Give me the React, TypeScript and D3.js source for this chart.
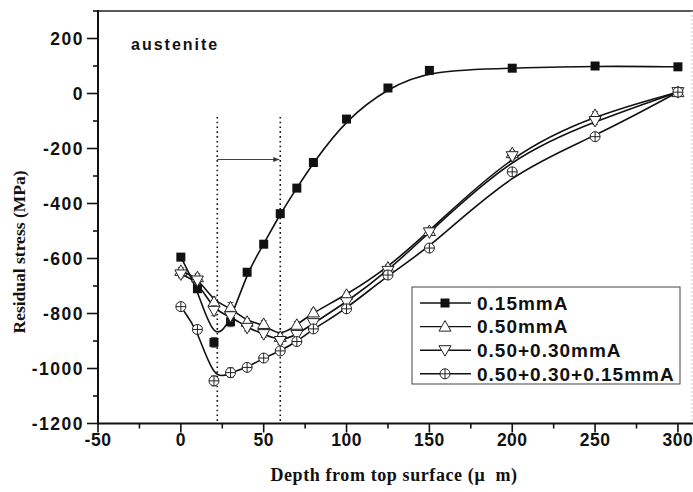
import React, { useEffect, useRef } from 'react';
import * as d3 from 'd3';

// depth (µm) shared by all series
const depths = [0, 10, 20, 30, 40, 50, 60, 70, 80, 100, 125, 150, 200, 250, 300];

const seriesNames = ['0.15mmA', '0.50mmA', '0.50+0.30mmA', '0.50+0.30+0.15mmA'];
const stress015 = [-595, -710, -905, -830, -650, -548, -437, -344, -251, -93, 20, 84, 92, 100, 97];
const stress050 = [-645, -668, -758, -778, -830, -838, -885, -841, -796, -732, -633, -500, -217, -78, 5];
const stress050_030 = [-658, -680, -790, -810, -852, -875, -900, -878, -835, -759, -645, -505, -228, -100, 5];
const stress050_030_015 = [-775, -858, -1045, -1015, -996, -962, -936, -902, -856, -783, -660, -562, -285, -157, 5];
const errors = [12, 12, 18, 18, 12, 12, 12, 12, 12, 10, 10, 10, 10, 12, 10];

const xTicks = [-50, 0, 50, 100, 150, 200, 250, 300];
const yTicks = [200, 0, -200, -400, -600, -800, -1000, -1200];
const markerLines = [22, 60];
const arrowLevel = -240;

const W = 693;
const H = 492;

const App: React.FC = () => {
  const svgRef = useRef<SVGSVGElement>(null);

  useEffect(() => {
    if (!svgRef.current) return;
    const svg = d3.select(svgRef.current).html('');

    const x = d3.scaleLinear().domain([-50, 310]).range([98, 694.5]);
    const y = d3.scaleLinear().domain([-1200, 300]).range([423.5, 11]);
    const sans = '"Liberation Sans", Arial, sans-serif';
    const serif = '"Liberation Serif", "Times New Roman", serif';

    // frame
    svg.append('line').attr('x1', 98).attr('x2', 694).attr('y1', 11).attr('y2', 11)
      .attr('stroke', '#222').attr('stroke-width', 1.5);
    svg.append('line').attr('x1', 692).attr('x2', 692).attr('y1', 11).attr('y2', 423.5)
      .attr('stroke', '#ccc').attr('stroke-width', 1).attr('stroke-dasharray', '2,2');

    // dotted vertical guides + arrow
    markerLines.forEach(v => {
      svg.append('line')
        .attr('x1', x(v)).attr('x2', x(v))
        .attr('y1', y(-85)).attr('y2', y(-1200))
        .attr('stroke', '#111').attr('stroke-width', 1.6)
        .attr('stroke-dasharray', '1.6,3.2');
    });
    const defs = svg.append('defs');
    defs.append('marker').attr('id', 'arr').attr('viewBox', '0 0 10 10')
      .attr('refX', 10).attr('refY', 5).attr('markerWidth', 10).attr('markerHeight', 6)
      .attr('orient', 'auto').attr('markerUnits', 'userSpaceOnUse')
      .append('path').attr('d', 'M0,1 L10,5 L0,9 Z').attr('fill', '#333');
    svg.append('line')
      .attr('x1', x(markerLines[0])).attr('x2', x(markerLines[1]) - 1)
      .attr('y1', y(arrowLevel)).attr('y2', y(arrowLevel))
      .attr('stroke', '#444').attr('stroke-width', 1)
      .attr('marker-end', 'url(#arr)');

    // axes
    const gx = svg.append('g');
    gx.append('line').attr('x1', 98).attr('x2', 694).attr('y1', 423.5).attr('y2', 423.5)
      .attr('stroke', '#111').attr('stroke-width', 2);
    d3.range(-50, 310, 25).forEach(v => {
      const major = v % 50 === 0;
      gx.append('line').attr('x1', x(v)).attr('x2', x(v))
        .attr('y1', 423.5).attr('y2', 423.5 + (major ? 9 : 5))
        .attr('stroke', '#111').attr('stroke-width', 1.6);
    });
    xTicks.forEach(v => {
      gx.append('text').attr('x', x(v)).attr('y', 446)
        .attr('text-anchor', 'middle').attr('font-family', sans).attr('font-weight', 'bold')
        .attr('font-size', 17.5).attr('letter-spacing', 0.5).attr('fill', '#111')
        .text(v);
    });

    const gy = svg.append('g');
    gy.append('line').attr('x1', 98).attr('x2', 98).attr('y1', 10).attr('y2', 424.5)
      .attr('stroke', '#111').attr('stroke-width', 2);
    d3.range(-1200, 301, 100).forEach(v => {
      const major = v % 200 === 0;
      gy.append('line').attr('x1', 98).attr('x2', 98 - (major ? 11 : 5))
        .attr('y1', y(v)).attr('y2', y(v))
        .attr('stroke', '#111').attr('stroke-width', 1.6);
    });
    yTicks.forEach(v => {
      gy.append('text').attr('x', 84).attr('y', y(v)).attr('dy', '0.36em')
        .attr('text-anchor', 'end').attr('font-family', sans).attr('font-weight', 'bold')
        .attr('font-size', 17.5).attr('letter-spacing', 1.5).attr('fill', '#111')
        .text(v);
    });

    // titles
    svg.append('text').attr('x', 394).attr('y', 481).attr('text-anchor', 'middle')
      .attr('font-family', serif).attr('font-weight', 'bold').attr('font-size', 18)
      .attr('letter-spacing', 0.6).attr('fill', '#111')
      .text('Depth from top surface (\u03bc  m)')
      .style('white-space', 'pre');
    svg.append('text').attr('transform', `translate(25,252) rotate(-90)`)
      .attr('text-anchor', 'middle').attr('font-family', serif).attr('font-weight', 'bold')
      .attr('font-size', 17.5).attr('fill', '#111')
      .text('Residual stress (MPa)');
    svg.append('text').attr('x', 131).attr('y', 50)
      .attr('font-family', sans).attr('font-weight', 'bold').attr('font-size', 16)
      .attr('letter-spacing', 2).attr('fill', '#111').text('austenite');

    // series
    const allStress = [stress015, stress050, stress050_030, stress050_030_015];
    const line = d3.line<number>()
      .x((_, i) => x(depths[i]))
      .y(d => y(d))
      .curve(d3.curveBasis);

    allStress.forEach(s => {
      svg.append('path').attr('d', line(s) as string)
        .attr('fill', 'none').attr('stroke', '#111').attr('stroke-width', 1.6);
    });

    const drawMarker = (g: any, k: number, cx: number, cy: number) => {
      if (k === 0) {
        g.append('rect').attr('x', cx - 4.5).attr('y', cy - 4.5).attr('width', 9).attr('height', 9)
          .attr('fill', '#111');
      } else if (k === 1) {
        g.append('path').attr('d', `M${cx},${cy - 6} L${cx + 6},${cy + 4.5} L${cx - 6},${cy + 4.5} Z`)
          .attr('fill', '#fff').attr('stroke', '#222').attr('stroke-width', 1);
      } else if (k === 2) {
        g.append('path').attr('d', `M${cx},${cy + 6} L${cx + 6},${cy - 4.5} L${cx - 6},${cy - 4.5} Z`)
          .attr('fill', '#fff').attr('stroke', '#222').attr('stroke-width', 1);
      } else {
        g.append('circle').attr('cx', cx).attr('cy', cy).attr('r', 5)
          .attr('fill', '#fff').attr('stroke', '#222').attr('stroke-width', 1);
        g.append('path').attr('d', `M${cx - 5},${cy} H${cx + 5} M${cx},${cy - 5} V${cy + 5}`)
          .attr('stroke', '#222').attr('stroke-width', 1);
      }
    };

    allStress.forEach((s, k) => {
      const g = svg.append('g');
      s.forEach((v, i) => {
        const cx = x(depths[i]);
        // error bars
        g.append('path')
          .attr('d', `M${cx},${y(v + errors[i])} V${y(v - errors[i])} M${cx - 3},${y(v + errors[i])} H${cx + 3} M${cx - 3},${y(v - errors[i])} H${cx + 3}`)
          .attr('stroke', '#333').attr('stroke-width', 0.8).attr('fill', 'none');
        drawMarker(g, k, cx, y(v));
      });
    });

    // legend
    const lg = svg.append('g');
    lg.append('rect').attr('x', 412).attr('y', 287).attr('width', 268).attr('height', 97)
      .attr('fill', '#fff').attr('stroke', '#444').attr('stroke-width', 1);
    seriesNames.forEach((name, k) => {
      const ly = 303 + k * 23.6;
      lg.append('line').attr('x1', 420).attr('x2', 471).attr('y1', ly).attr('y2', ly)
        .attr('stroke', '#111').attr('stroke-width', 1.4);
      drawMarker(lg, k, 445, ly);
      lg.append('text').attr('x', 477).attr('y', ly).attr('dy', '0.36em')
        .attr('font-family', sans).attr('font-weight', 'bold').attr('font-size', 19)
        .attr('letter-spacing', 1).attr('fill', '#111').text(name);
    });
  }, []);

  return (
    <svg ref={svgRef} width={W} height={H}
      style={{ position: 'absolute', left: 0, top: 0, background: '#fff' }} />
  );
};

export default App;
